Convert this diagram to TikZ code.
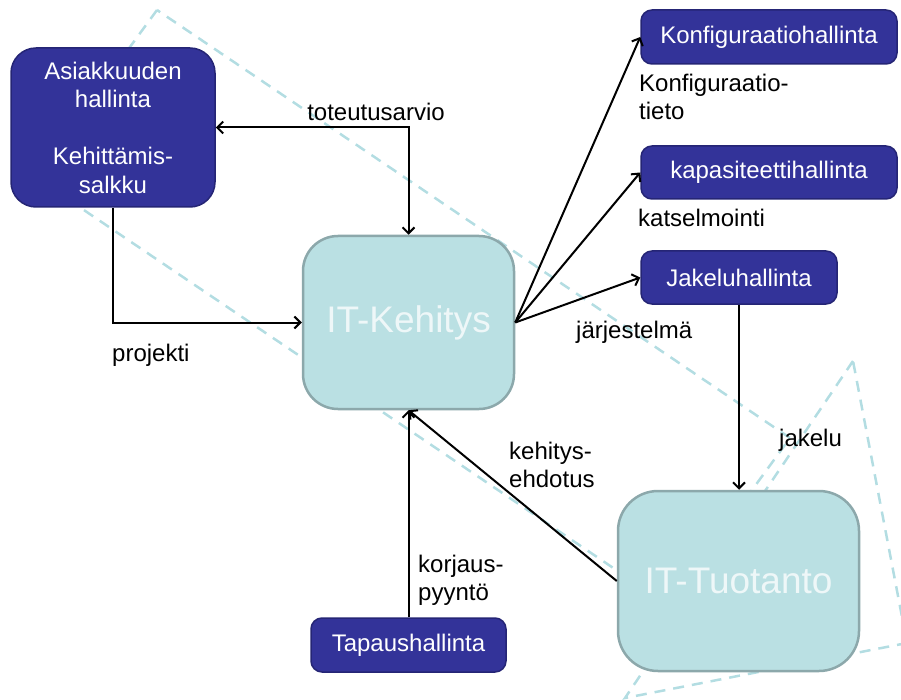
\documentclass[tikz,border=0pt]{standalone}
\usepackage{fontspec}
\setmainfont{Liberation Sans}
\usetikzlibrary{arrows.meta}
\definecolor{procblue}{HTML}{333399}
\definecolor{procedge}{HTML}{252575}
\definecolor{unitfill}{HTML}{BAE0E3}
\definecolor{unitedge}{HTML}{8CA8AB}
\definecolor{unittext}{HTML}{EEF7F8}
\definecolor{zoneline}{HTML}{B3DDE2}
\tikzset{
  proc/.style={draw=procedge, line width=1.5pt, fill=procblue, text=white,
    rounded corners=11pt, inner sep=0pt, align=center,
    font=\fontsize{24}{28.5}\selectfont},
  unit/.style={draw=unitedge, line width=2.5pt, fill=unitfill, text=unittext,
    inner sep=0pt, font=\fontsize{37}{40}\selectfont},
  flow/.style={draw=black, line width=2pt,
    -{Straight Barb[length=6pt,width=12pt]}},
  twoway/.style={flow, {Straight Barb[length=6pt,width=12pt]}-{Straight Barb[length=6pt,width=12pt]}},
  lbl/.style={inner sep=0pt, anchor=base west, align=left,
    font=\fontsize{24}{28}\selectfont},
  zone/.style={draw=zoneline, line width=2.5pt, dash pattern=on 11pt off 8pt}
}
\begin{document}
\begin{tikzpicture}[x=1pt, y=-1pt]
  \useasboundingbox (0,0) rectangle (901,700);

  % process zones behind the diagram
  \begin{scope}
    \clip (0,0) rectangle (901,700);
    \draw[zone] (157,10) -- (35,177) -- (668,605) -- (790,438) -- cycle;
    \draw[zone] (853,361) -- (625,698) -- (907,643) -- cycle;
  \end{scope}

  % processes
  \node[proc, rounded corners=25pt, minimum width=204pt, minimum height=159pt]
    (ask) at (113,127.5) {Asiakkuuden\\hallinta\\[28.5pt]Kehittämis-\\salkku};
  \node[proc, minimum width=256pt, minimum height=54pt] (konf) at (769,37) {Konfiguraatiohallinta};
  \node[proc, minimum width=256pt, minimum height=53pt] (kap) at (769,172.5) {kapasiteettihallinta};
  \node[proc, minimum width=196pt, minimum height=53pt] (jak) at (739,277.5) {Jakeluhallinta};
  \node[proc, minimum width=195pt, minimum height=54pt] (tap) at (408.5,645) {Tapaushallinta};

  % organisational units
  \node[unit, rounded corners=35pt, minimum width=211pt, minimum height=173pt]
    (itk) at (408.5,322.5) {IT-Kehitys};
  \node[unit, rounded corners=40pt, minimum width=241pt, minimum height=180pt]
    (itt) at (738.5,581) {IT-Tuotanto};

  % flows
  \draw[twoway] (ask.east) -| (itk.north);
  \draw[flow] (ask.south) |- (itk.west);
  \draw[flow] (itk.east) -- (konf.west);
  \draw[flow] (itk.east) -- (kap.west);
  \draw[flow] (itk.east) -- (jak.west);
  \draw[flow] (jak.south) -- (jak.south |- itt.north);
  \draw[flow] (itt.west) -- (itk.south);
  \draw[flow] (tap.north) -- (itk.south);

  % flow labels (two-line labels are placed by their last baseline)
  \node[lbl, anchor=base] (l1) at (376,121) {toteutusarvio};
  \node[lbl] (l2) at (112,361) {projekti};
  \node[lbl] (l3) at (639,120) {Konfiguraatio-\\tieto};
  \node[lbl] (l4) at (638,227) {katselmointi};
  \node[lbl] (l5) at (576,338) {järjestelmä};
  \node[lbl] (l6) at (779,446) {jakelu};
  \node[lbl] (l7) at (509,487) {kehitys-\\ehdotus};
  \node[lbl] (l8) at (418,600) {korjaus-\\pyyntö};
\end{tikzpicture}
\end{document}
